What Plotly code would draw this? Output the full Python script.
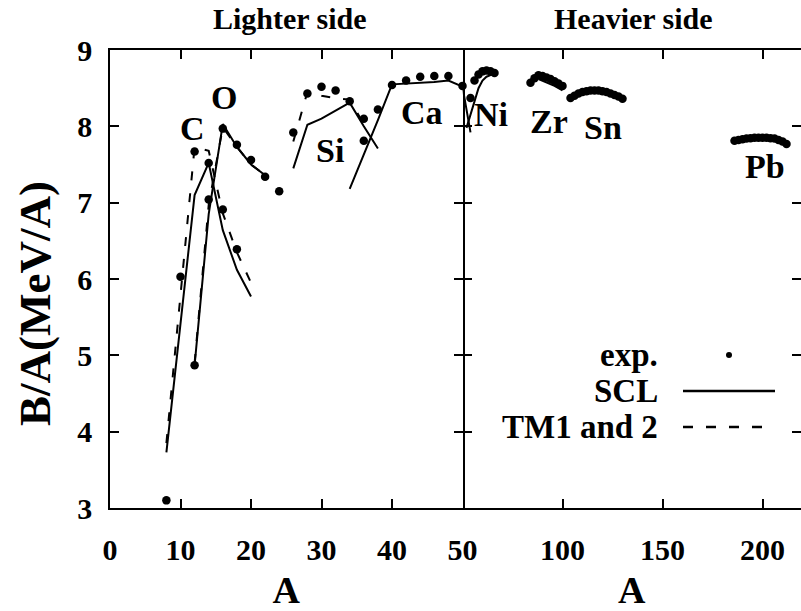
import plotly.graph_objects as go

# ---------------- data (A, B/A in MeV) ----------------
# experimental values
C_A_exp = [8, 10, 12, 14, 16, 18]
C_exp = [3.10, 6.03, 7.67, 7.52, 6.91, 6.39]
O_A_exp = [12, 14, 16, 18, 20, 22]
O_exp = [4.87, 7.04, 7.97, 7.76, 7.56, 7.34]
Si_A_exp = [24, 26, 28, 30, 32, 34, 36]
Si_exp = [7.15, 7.92, 8.43, 8.52, 8.47, 8.33, 8.10]
Ca_A_exp = [36, 38, 40, 42, 44, 46, 48, 50]
Ca_exp = [7.81, 8.22, 8.54, 8.60, 8.65, 8.66, 8.66, 8.53]
Ni_A_exp = [54, 56, 58, 60, 62, 64, 66]
Ni_exp = [8.37, 8.60, 8.68, 8.72, 8.73, 8.72, 8.70]
Zr_A_exp = [84, 86, 88, 90, 92, 94, 96, 98, 100]
Zr_exp = [8.57, 8.63, 8.67, 8.66, 8.64, 8.62, 8.59, 8.56, 8.53]
Sn_A_exp = [104, 106, 108, 110, 112, 114, 116, 118, 120, 122, 124, 126, 128, 130]
Sn_exp = [8.37, 8.40, 8.43, 8.45, 8.46, 8.47, 8.47, 8.47, 8.46, 8.45, 8.43, 8.41, 8.39, 8.36]
Pb_A_exp = [186, 188, 190, 192, 194, 196, 198, 200, 202, 204, 206, 208, 210, 212]
Pb_exp = [7.81, 7.82, 7.83, 7.84, 7.845, 7.85, 7.85, 7.85, 7.85, 7.845, 7.84, 7.82, 7.80, 7.77]

# SCL calculation
C_A_scl = [8, 10, 12, 14, 16, 18, 20]
C_scl = [3.73, 5.40, 7.10, 7.52, 6.64, 6.12, 5.77]
O_A_scl = [12, 14, 16, 18, 20, 22]
O_scl = [4.87, 6.85, 8.03, 7.73, 7.50, 7.36]
Si_A_scl = [26, 28, 30, 32, 34, 36, 38]
Si_scl = [7.45, 8.02, 8.10, 8.21, 8.31, 8.00, 7.71]
Ca_A_scl = [34, 36, 38, 40, 42, 44, 46, 48, 50, 52, 54]
Ca_scl = [7.18, 7.62, 8.08, 8.55, 8.56, 8.57, 8.58, 8.60, 8.52, 8.20, 7.92]
Ni_A_scl = [52, 54, 56, 58, 60, 62, 64, 66]
Ni_scl = [7.98, 8.15, 8.33, 8.50, 8.60, 8.65, 8.67, 8.69]
Zr_A_scl = [88, 90, 92, 94, 96, 98, 100]
Zr_scl = [8.62, 8.60, 8.58, 8.56, 8.53, 8.50, 8.47]

# TM1 and TM2 calculation
C_A_tm = [8, 10, 12, 14, 16, 18, 20]
C_tm = [3.85, 5.79, 7.73, 7.68, 6.86, 6.35, 5.95]
O_A_tm = [12, 14, 16, 18, 20, 22]
O_tm = [4.90, 6.97, 7.99, 7.73, 7.50, 7.36]
Si_A_tm = [26, 28, 30, 32, 34, 36]
Si_tm = [7.80, 8.45, 8.40, 8.37, 8.35, 8.03]

# element labels
lab_left = ["C", "O", "Si", "Ca"]
lab_left_A = [11.7, 16.1, 31.2, 44.2]
lab_left_B = [7.97, 8.38, 7.69, 8.18]
lab_right = ["Ni", "Zr", "Sn", "Pb"]
lab_right_A = [64.2, 93.2, 120.2, 201.2]
lab_right_B = [8.16, 8.06, 7.99, 7.47]

legend_names = ["exp.", "SCL", "TM1 and 2"]
x_titles = ["A", "A"]
y_title = "B/A(MeV/A)"
panel_titles = ["Lighter side", "Heavier side"]

FONT = "Liberation Serif"
DASH = "9px,13px"

fig = go.Figure()

exp_sets = [(C_A_exp, C_exp), (O_A_exp, O_exp), (Si_A_exp, Si_exp), (Ca_A_exp, Ca_exp),
            (Ni_A_exp, Ni_exp), (Zr_A_exp, Zr_exp), (Sn_A_exp, Sn_exp), (Pb_A_exp, Pb_exp)]
scl_sets = [(C_A_scl, C_scl), (O_A_scl, O_scl), (Si_A_scl, Si_scl), (Ca_A_scl, Ca_scl),
            (Ni_A_scl, Ni_scl), (Zr_A_scl, Zr_scl)]
tm_sets = [(C_A_tm, C_tm), (O_A_tm, O_tm), (Si_A_tm, Si_tm)]

for axes in [("x", "y"), ("x2", "y2")]:
    for A, B in tm_sets:
        fig.add_trace(go.Scatter(x=A, y=B, mode="lines", xaxis=axes[0], yaxis=axes[1],
                                 line=dict(color="black", width=2, dash=DASH),
                                 showlegend=False, hoverinfo="skip"))
    for A, B in scl_sets:
        fig.add_trace(go.Scatter(x=A, y=B, mode="lines", xaxis=axes[0], yaxis=axes[1],
                                 line=dict(color="black", width=2),
                                 showlegend=False, hoverinfo="skip"))

for A, B in exp_sets:
    left = [(a, b) for a, b in zip(A, B) if a <= 50]
    right = [(a, b) for a, b in zip(A, B) if a > 50]
    for pts, ax in [(left, ("x", "y")), (right, ("x2", "y2"))]:
        if pts:
            fig.add_trace(go.Scatter(x=[p[0] for p in pts], y=[p[1] for p in pts], mode="markers",
                                     xaxis=ax[0], yaxis=ax[1], cliponaxis=False,
                                     marker=dict(color="black", size=8.5),
                                     showlegend=False, hoverinfo="skip"))

# plot area in pixels
W, H = 801, 611
ML, MR, MT, MB = 110, 0, 50, 103
PW, PH = W - ML - MR, H - MT - MB
split = 352.5 / PW


def px(xp):
    return (xp - ML) / PW


def py(yp):
    return (H - MB - yp) / PH


tickfont = dict(family=FONT, size=30, color="black", weight="bold")
axcommon = dict(linecolor="black", linewidth=1.6, mirror="ticks",
                ticks="inside", ticklen=9, tickwidth=1.5, tickcolor="black",
                showgrid=False, zeroline=False, tickfont=tickfont, automargin=False)

fig.update_layout(
    width=W, height=H, margin=dict(l=ML, r=MR, t=MT, b=MB, autoexpand=False),
    autosize=False,
    plot_bgcolor="white", paper_bgcolor="white",
    font=dict(family=FONT, color="black", weight="bold"),
    xaxis=dict(domain=[0, split], range=[0, 50], tickvals=[0, 10, 20, 30, 40, 50],
               anchor="y", ticklabelstandoff=14, showline=True,
               title=dict(text=x_titles[0], font=dict(family=FONT, size=38, weight="bold"), standoff=12),
               **axcommon),
    xaxis2=dict(domain=[split, 1], range=[50, 50 + (PW - 352.5) / 2], tickvals=[100, 150, 200],
                anchor="y2", ticklabelstandoff=14, showline=True,
                title=dict(text=x_titles[1], font=dict(family=FONT, size=38, weight="bold"), standoff=12),
                **axcommon),
    yaxis=dict(range=[3, 9], tickvals=[3, 4, 5, 6, 7, 8, 9], anchor="x", ticklabelstandoff=10,
               showline=True, **axcommon),
    yaxis2=dict(range=[3, 9], tickvals=[3, 4, 5, 6, 7, 8, 9], anchor="x2", showticklabels=False,
                showline=False, **axcommon),
)

ann = []
for t, a, b in zip(lab_left, lab_left_A, lab_left_B):
    ann.append(dict(text=t, x=a, y=b, xref="x", yref="y", showarrow=False,
                    xanchor="center", yanchor="middle",
                    font=dict(family=FONT, size=34, weight="bold", color="black")))
for t, a, b in zip(lab_right, lab_right_A, lab_right_B):
    ann.append(dict(text=t, x=a, y=b, xref="x2", yref="y2", showarrow=False,
                    xanchor="center", yanchor="middle",
                    font=dict(family=FONT, size=34, weight="bold", color="black")))
# y-axis title
ann.append(dict(text=y_title, x=px(35), y=py(304), xref="paper", yref="paper", textangle=-90,
                xanchor="center", yanchor="middle", showarrow=False,
                font=dict(family=FONT, size=45, weight="bold", color="black")))
# panel titles
for t, xp in zip(panel_titles, [290, 633]):
    ann.append(dict(text=t, x=px(xp), y=py(18), xref="paper", yref="paper",
                    xanchor="center", yanchor="middle", showarrow=False,
                    font=dict(family=FONT, size=30, weight="bold", color="black")))
# legend text
for t, yp in zip(legend_names, [355, 391, 427]):
    ann.append(dict(text=t, x=px(660), y=py(yp), xref="paper", yref="paper", xanchor="right",
                    yanchor="middle", showarrow=False,
                    font=dict(family=FONT, size=33, weight="bold", color="black")))
fig.update_layout(annotations=ann)

shapes = [
    dict(type="circle", xref="paper", yref="paper", x0=px(726), x1=px(732), y0=py(358), y1=py(352),
         fillcolor="black", line=dict(color="black", width=0)),
    dict(type="line", xref="paper", yref="paper", x0=px(683), x1=px(775), y0=py(391), y1=py(391),
         line=dict(color="black", width=2.5)),
    dict(type="line", xref="paper", yref="paper", x0=px(683), x1=px(775), y0=py(427), y1=py(427),
         line=dict(color="black", width=2.5, dash="10px,13px")),
]
fig.update_layout(shapes=shapes)

fig.write_html("out.html", config={"displayModeBar": False},
               post_script="document.body.style.margin='0';")
